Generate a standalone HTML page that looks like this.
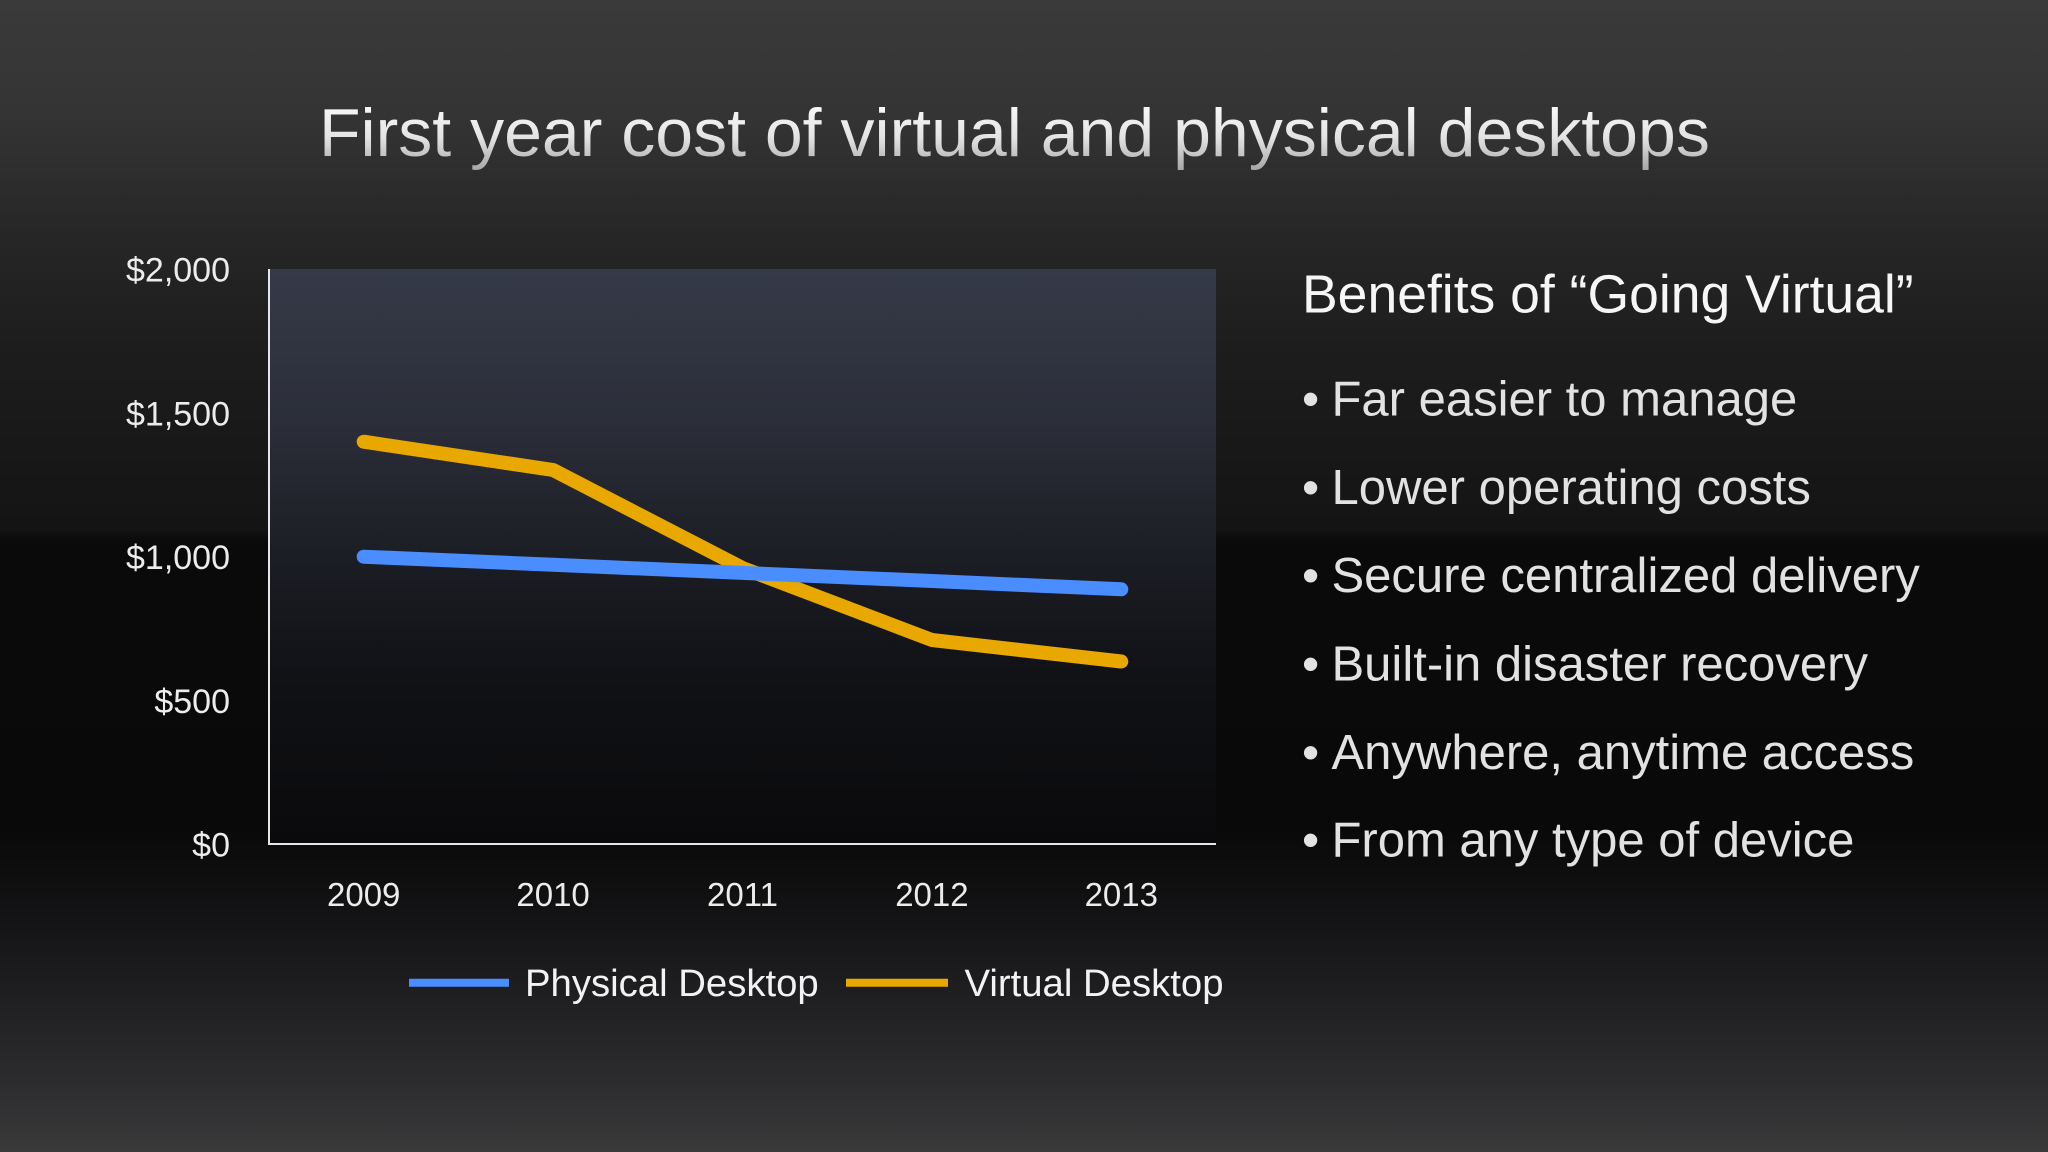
<!DOCTYPE html>
<html>
<head>
<meta charset="utf-8">
<style>
html,body{margin:0;padding:0;background:#111;}
svg{display:block;}
text{font-family:"Liberation Sans",Arial,Helvetica,sans-serif;}
</style>
</head>
<body>
<svg width="2048" height="1152" viewBox="0 0 2048 1152" xmlns="http://www.w3.org/2000/svg">
  <defs>
    <linearGradient id="bg2" x1="0" y1="0" x2="0" y2="1">
      <stop offset="0" stop-color="#3a3a3a"/>
      <stop offset="0.1" stop-color="#343434"/>
      <stop offset="0.2" stop-color="#272727"/>
      <stop offset="0.3" stop-color="#1d1d1d"/>
      <stop offset="0.46" stop-color="#141414"/>
      <stop offset="0.47" stop-color="#0a0a0a"/>
      <stop offset="0.72" stop-color="#090909"/>
      <stop offset="0.8" stop-color="#141416"/>
      <stop offset="0.87" stop-color="#202022"/>
      <stop offset="0.95" stop-color="#2e2e30"/>
      <stop offset="1" stop-color="#3a3a3b"/>
    </linearGradient>
    <linearGradient id="plot" x1="0" y1="0" x2="0" y2="1">
      <stop offset="0" stop-color="#353a48"/>
      <stop offset="0.25" stop-color="#2c2f3a"/>
      <stop offset="0.5" stop-color="#1c1e25"/>
      <stop offset="0.7" stop-color="#111216"/>
      <stop offset="1" stop-color="#0a0a0c"/>
    </linearGradient>
    <linearGradient id="titleGrad" x1="0" y1="0" x2="0" y2="1">
      <stop offset="0" stop-color="#ffffff"/>
      <stop offset="0.55" stop-color="#e4e4e4"/>
      <stop offset="1" stop-color="#a5a5a5"/>
    </linearGradient>
  </defs>

  <rect x="0" y="0" width="2048" height="1152" fill="url(#bg2)"/>

  <!-- Title -->
  <text x="319" y="156" font-size="68" fill="url(#titleGrad)">First year cost of virtual and physical desktops</text>

  <!-- Plot area -->
  <rect x="269" y="269" width="947" height="575" fill="url(#plot)"/>
  <line x1="269" y1="269" x2="269" y2="845" stroke="#e6e6e6" stroke-width="2"/>
  <line x1="268" y1="844" x2="1216" y2="844" stroke="#e6e6e6" stroke-width="2"/>

  <!-- Y labels -->
  <g font-size="34" fill="#ececec" text-anchor="end">
    <text x="230" y="281.7">$2,000</text>
    <text x="230" y="425.4">$1,500</text>
    <text x="230" y="569.2">$1,000</text>
    <text x="230" y="712.9">$500</text>
    <text x="230" y="856.7">$0</text>
  </g>

  <!-- X labels -->
  <g font-size="33" fill="#ececec" text-anchor="middle">
    <text x="363.7" y="906">2009</text>
    <text x="553.1" y="906">2010</text>
    <text x="742.5" y="906">2011</text>
    <text x="931.9" y="906">2012</text>
    <text x="1121.3" y="906">2013</text>
  </g>

  <!-- Series -->
  <polyline points="363.7,441.7 553.1,470 742.5,568 931.9,640 1121.3,661.5" fill="none" stroke="#e8a800" stroke-width="14" stroke-linecap="round" stroke-linejoin="round"/>
  <polyline points="363.7,556.7 553.1,564.8 742.5,572.9 931.9,581 1121.3,589.3" fill="none" stroke="#4a8dff" stroke-width="14" stroke-linecap="round" stroke-linejoin="round"/>

  <!-- Legend -->
  <line x1="409" y1="982.7" x2="509" y2="982.7" stroke="#4a8dff" stroke-width="8"/>
  <text x="525" y="996" font-size="38.3" fill="#f2f2f2">Physical Desktop</text>
  <line x1="846" y1="982.7" x2="948" y2="982.7" stroke="#e8a800" stroke-width="8"/>
  <text x="964.5" y="996" font-size="38.3" fill="#f2f2f2">Virtual Desktop</text>

  <!-- Right text -->
  <text x="1302" y="312.3" font-size="53.5" fill="#f6f6f6">Benefits of “Going Virtual”</text>
  <g font-size="49" fill="#e2e2e2">
    <text x="1302" y="415.7">•</text><text x="1331.5" y="415.7">Far easier to manage</text>
    <text x="1302" y="503.9">•</text><text x="1331.5" y="503.9">Lower operating costs</text>
    <text x="1302" y="592.1">•</text><text x="1331.5" y="592.1">Secure centralized delivery</text>
    <text x="1302" y="680.5">•</text><text x="1331.5" y="680.5">Built-in disaster recovery</text>
    <text x="1302" y="769.1">•</text><text x="1331.5" y="769.1">Anywhere, anytime access</text>
    <text x="1302" y="856.7">•</text><text x="1331.5" y="856.7">From any type of device</text>
  </g>
</svg>
</body>
</html>
